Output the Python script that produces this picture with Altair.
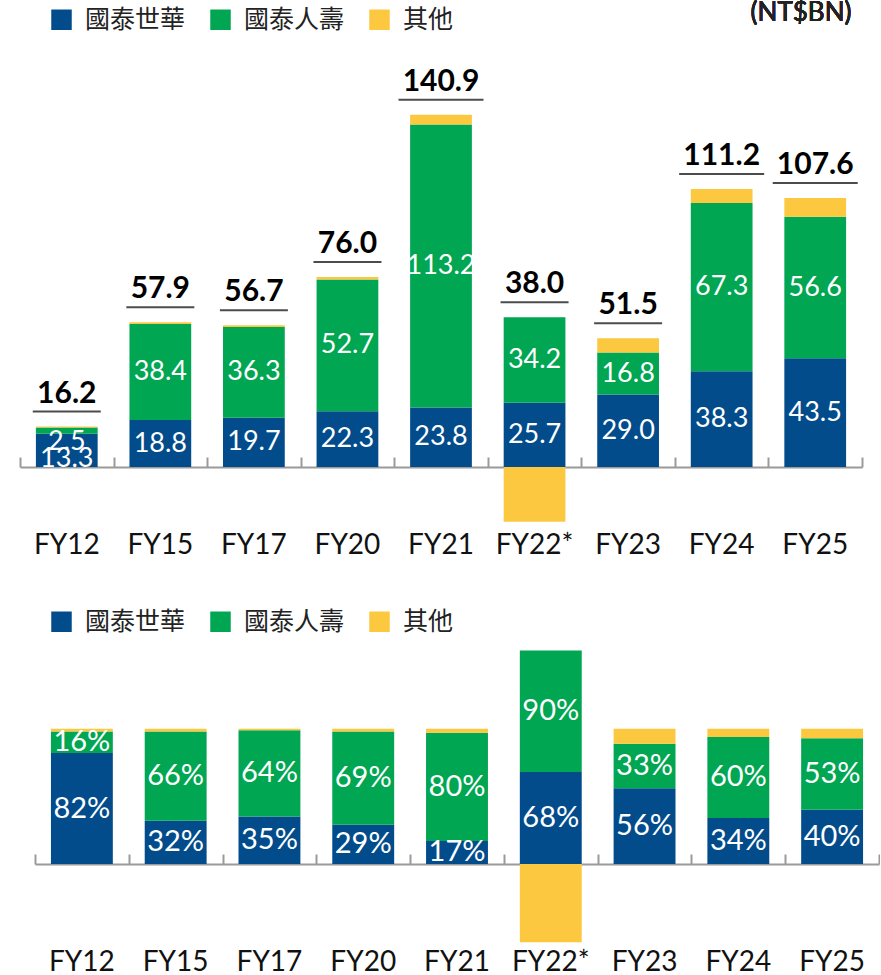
import altair as alt
import pandas as pd

categories = ["FY12", "FY15", "FY17", "FY20", "FY21", "FY22*", "FY23", "FY24", "FY25"]
series = ["國泰世華", "國泰人壽", "其他"]
colors = ["#024C8C", "#00A651", "#FBC83F"]

# NT$BN
cub = [13.3, 18.8, 19.7, 22.3, 23.8, 25.7, 29.0, 38.3, 43.5]
life = [2.5, 38.4, 36.3, 52.7, 113.2, 34.2, 16.8, 67.3, 56.6]
total = [16.2, 57.9, 56.7, 76.0, 140.9, 38.0, 51.5, 111.2, 107.6]

# share (%)
cub_pct = [82, 32, 35, 29, 17, 68, 56, 34, 40]
life_pct = [16, 66, 64, 69, 80, 90, 33, 60, 53]

LAT = "Lato"
CJK = "Noto Sans CJK TC"


def build(values_a, values_b, totals, fmt, suffix):
    rows, labs, tots = [], [], []
    for i, c in enumerate(categories):
        tot = totals[i]
        oth = round(tot - values_a[i] - values_b[i], 1)
        for k, (s, v) in enumerate(zip(series, [values_a[i], values_b[i], oth])):
            rows.append({"cat": c, "series": s, "val": v, "ord": k})
        a, b = values_a[i], values_b[i]
        pa, pb = a / 2, a + b / 2
        if b < 8:  # thin segment: put both labels inside the short bar
            pb = a + b - 5.7
            pa = 3.4
        labs.append({"cat": c, "pos": pa, "txt": fmt.format(a) + suffix})
        labs.append({"cat": c, "pos": pb, "txt": fmt.format(b) + suffix})
        top = a + b + max(oth, 0)
        tl = fmt.format(tot)
        tots.append({"cat": c, "top": top, "txt": tl, "ulen": 17 * len(tl)})
    return pd.DataFrame(rows), pd.DataFrame(labs), pd.DataFrame(tots)


def legend(ly):
    return alt.Legend(
        title=None, orient="none", legendX=29, legendY=ly, direction="horizontal",
        symbolType="square", symbolSize=420, symbolStrokeWidth=0, symbolOpacity=1,
        labelFont=CJK, labelFontSize=25, labelColor="#222222", labelOffset=11,
        columnPadding=22, labelLimit=300,
    )


def panel(df, labs, tots, xrange, ydom, h, zero_off, ly, label_size, label_pad, with_totals):
    xs = alt.Scale(domain=categories, range=xrange, paddingInner=0, paddingOuter=0)
    ys = alt.Scale(domain=ydom, nice=False, zero=False)
    bars = alt.Chart(df).mark_bar(width=alt.RelativeBandSize(0.66)).encode(
        x=alt.X("cat:N", sort=categories, scale=xs,
                axis=alt.Axis(title=None, orient="bottom", domain=False, ticks=False, labelAngle=0,
                              labelFont=LAT, labelFontSize=28, labelColor="#111111",
                              labelPadding=label_pad)),
        y=alt.Y("val:Q", stack="zero", scale=ys, axis=None),
        color=alt.Color("series:N", scale=alt.Scale(domain=series, range=colors), legend=legend(ly)),
        order=alt.Order("ord:Q"),
    )
    lab = alt.Chart(labs).mark_text(font=LAT, fontSize=label_size, color="white").encode(
        x=alt.X("cat:N", sort=categories, scale=xs,
                axis=alt.Axis(title=None, orient="top", labels=False, domain=True, ticks=True,
                              tickBand="extent", tickSize=10, tickWidth=2, tickColor="#9A9A9A",
                              tickOpacity=1, domainColor="#9A9A9A", domainWidth=2,
                              offset=zero_off, grid=False)),
        y=alt.Y("pos:Q", scale=ys, axis=None),
        text="txt:N",
    )
    layers = [bars, lab]
    if with_totals:
        tt = alt.Chart(tots).mark_text(font=LAT, fontSize=30, fontWeight="bold", color="black",
                                       baseline="bottom", dy=-18).encode(
            x=alt.X("cat:N", sort=categories, scale=xs, axis=None),
            y=alt.Y("top:Q", scale=ys, axis=None),
            text="txt:N",
        )
        ul = alt.Chart(tots).mark_tick(color="black", thickness=2, yOffset=-15).encode(
            x=alt.X("cat:N", sort=categories, scale=xs, axis=None),
            y=alt.Y("top:Q", scale=ys, axis=None),
            size=alt.Size("ulen:Q", scale=None, legend=None),
        )
        unit = alt.Chart(tots).mark_text(font=LAT, fontSize=26, color="#222222", align="center").encode(
            x=alt.value(781), y=alt.value(-47), text=alt.value("(NT$BN)"))
        layers += [tt, ul, unit]
    return alt.layer(*layers).resolve_axis(x="independent").properties(width=860, height=h)


df1, lab1, tot1 = build(cub, life, total, "{:.1f}", "")
df2, lab2, tot2 = build(cub_pct, life_pct, [100] * 9, "{:.0f}", "%")

top = panel(df1, lab1, tot1, [0, 842], [-23.2, 162.8], 465, -407, -53, 27, 6, True)
bottom = panel(df2, lab2, tot2, [15, 859], [-60, 162], 300, -219, -36, 29, 3, False)

chart = alt.vconcat(top, bottom, spacing=50).resolve_scale(
    x="independent", y="independent", color="independent"
).properties(padding={"left": 19, "top": 0, "right": 0, "bottom": 0}).configure_view(stroke=None)

chart.save("out.html", embed_options={"renderer": "svg", "actions": False})
